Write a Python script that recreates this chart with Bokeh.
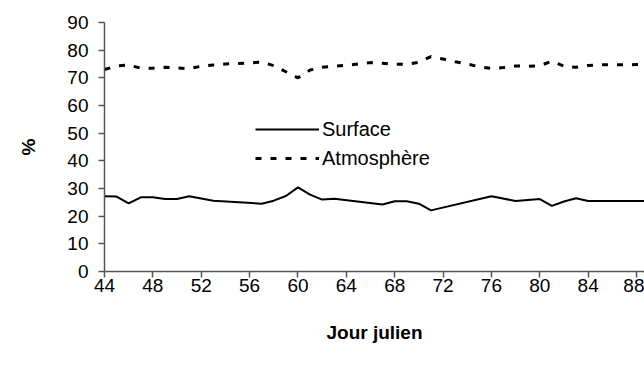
from bokeh.plotting import figure
from bokeh.models import Legend, LegendItem, FixedTicker, Range1d
from bokeh.embed import file_html
from bokeh.resources import INLINE

# Data
surf_days = [44, 45, 46, 47, 48, 49, 50, 51, 53, 57, 58, 59, 60, 61, 62, 63, 67, 68, 69, 70, 71, 76, 78, 80, 81, 82, 83, 84, 89]
surf_vals = [27.2, 27.1, 24.6, 26.8, 26.8, 26.2, 26.2, 27.2, 25.6, 24.5, 25.6, 27.3, 30.4, 27.8, 26.0, 26.3, 24.2, 25.4, 25.4, 24.5, 22.1, 27.2, 25.5, 26.2, 23.7, 25.3, 26.5, 25.5, 25.5]

atm_days = list(range(44, 90))
atm_vals = [73.0, 74.3, 74.6, 73.5, 73.5, 73.8, 73.6, 73.3, 74.2, 74.6,
            75.0, 75.2, 75.4, 75.7, 74.4, 72.2, 70.0, 72.8, 73.8, 74.2,
            74.5, 75.0, 75.5, 75.3, 74.9, 74.9, 75.6, 77.7, 76.8, 75.8,
            75.0, 74.0, 73.4, 73.7, 74.3, 74.2, 74.4, 76.0, 74.2, 73.8,
            74.5, 74.7, 74.7, 74.7, 74.8, 74.8]

x_ticks = [44, 48, 52, 56, 60, 64, 68, 72, 76, 80, 84, 88]
y_ticks = [0, 10, 20, 30, 40, 50, 60, 70, 80, 90]

FONT = "Liberation Sans"

p = figure(width=644, height=370, output_backend="svg", toolbar_location=None,
           x_range=Range1d(44, 88.66), y_range=Range1d(0, 90),
           min_border_left=104, min_border_right=0, min_border_top=22, min_border_bottom=99)
p.outline_line_color = None
p.xgrid.visible = False
p.ygrid.visible = False

r1 = p.line(surf_days, surf_vals, line_color="black", line_width=2)
r2 = p.line(atm_days, atm_vals, line_color="black", line_width=3, line_dash="6 9")

for ax in (p.xaxis[0], p.yaxis[0]):
    ax.axis_line_color = "#555555"
    ax.axis_line_width = 1.5
    ax.major_tick_line_color = "#555555"
    ax.major_tick_line_width = 1.5
    ax.major_tick_out = 6
    ax.major_tick_in = 0
    ax.minor_tick_line_color = None
    ax.major_label_text_font = FONT
    ax.major_label_text_font_size = "19px"
    ax.major_label_text_color = "black"
    ax.axis_label_text_font = FONT
    ax.axis_label_text_font_size = "19px"
    ax.axis_label_text_font_style = "bold"
    ax.axis_label_text_color = "black"

p.xaxis[0].ticker = FixedTicker(ticks=x_ticks)
p.yaxis[0].ticker = FixedTicker(ticks=y_ticks)
p.xaxis[0].axis_label = "Jour julien"
p.yaxis[0].axis_label = "%"
p.xaxis[0].major_label_standoff = 1
p.yaxis[0].major_label_standoff = 10
p.xaxis[0].axis_label_standoff = 27
p.yaxis[0].axis_label_standoff = 25

legend = Legend(items=[LegendItem(label="Surface", renderers=[r1]),
                       LegendItem(label="Atmosphère", renderers=[r2])],
                location=(151, 101))
legend.border_line_color = None
legend.background_fill_alpha = 0
legend.padding = 0
legend.margin = 0
legend.spacing = 5
legend.glyph_width = 64
legend.glyph_height = 24
legend.label_height = 24
legend.label_standoff = 3
legend.label_text_font = FONT
legend.label_text_font_size = "20px"
legend.label_text_color = "black"
p.add_layout(legend)

open("out.html", "w").write(file_html(p, INLINE))
